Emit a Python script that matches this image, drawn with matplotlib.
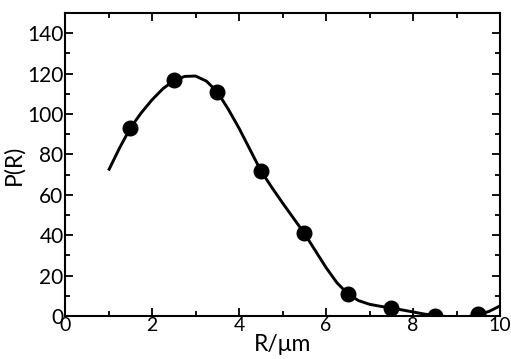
import matplotlib
matplotlib.use("Agg")
import matplotlib.pyplot as plt
from matplotlib.ticker import MultipleLocator

# measured points
r_pts = [1.5, 2.5, 3.5, 4.5, 5.5, 6.5, 7.5, 8.5, 9.5]
p_pts = [93, 117, 111, 72, 41, 11, 4, 0, 1]

# fitted curve
r_fit = [1.0, 1.25, 1.5, 1.75, 2.0, 2.25, 2.5, 2.75, 3.0, 3.25, 3.5, 3.75,
         4.0, 4.25, 4.5, 4.75, 5.0, 5.25, 5.5, 5.75, 6.0, 6.25, 6.5, 6.75,
         7.0, 7.25, 7.5, 7.75, 8.0, 8.25, 8.5, 8.75, 9.0, 9.25, 9.5, 9.75, 10.0]
p_fit = [72, 83, 93, 100.5, 107, 112.5, 116.5, 118.6, 118.8, 116.3, 111, 102.5,
         93, 82.5, 72, 63.8, 56, 48.5, 41, 32.5, 24, 16.5, 11, 7.6,
         5.8, 4.8, 4, 3, 2, 1, 0.2, -0.3, -0.6, -0.3, 0.5, 2.3, 5]

plt.rcParams['font.family'] = ['Lato', 'DejaVu Sans']

fig = plt.figure(figsize=(5.11, 3.59), dpi=100)
ax = fig.add_axes([65 / 511, 1 - 316 / 359, 435 / 511, 303 / 359])

ax.plot(r_fit, p_fit, color='black', lw=2.1, solid_capstyle='butt')
ax.plot(r_pts, p_pts, 'o', color='black', ms=10.5)

ax.set_xlim(0, 10)
ax.set_ylim(0, 150)
ax.xaxis.set_major_locator(MultipleLocator(2))
ax.xaxis.set_minor_locator(MultipleLocator(1))
ax.yaxis.set_minor_locator(MultipleLocator(10))
ax.set_yticks(range(0, 141, 20))

ax.tick_params(which='both', direction='in', top=True, right=True,
               width=1.3, labelsize=15, pad=1)
ax.tick_params(axis='x', labelsize=14)
ax.tick_params(which='major', length=6)
ax.tick_params(which='minor', length=3.5)
for s in ax.spines.values():
    s.set_linewidth(1.5)

ax.set_xlabel('R/\u03bcm', fontsize=16.5, labelpad=0)
ax.set_ylabel('P(R)', fontsize=16.5, labelpad=2)

fig.savefig('out.png', dpi=100)
